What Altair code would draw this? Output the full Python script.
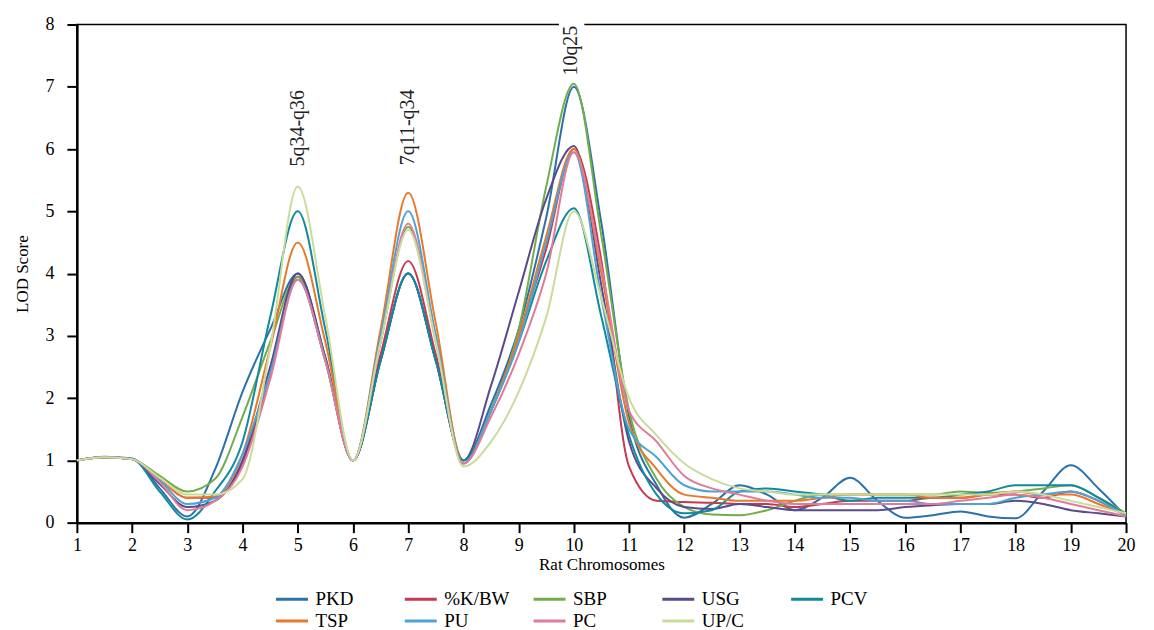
import altair as alt
import pandas as pd

# x positions (rat chromosomes)
chrom = [1, 1.5, 2, 2.5, 3, 3.5, 4, 4.5, 5, 5.5, 6, 6.5, 7, 7.5, 8, 8.5, 9, 9.5, 10,
         10.5, 11, 11.5, 12, 12.5, 13, 13.5, 14, 14.5, 15, 15.5, 16, 16.5, 17, 17.5,
         18, 18.5, 19, 19.5, 20]

series_names = ["PKD", "%K/BW", "SBP", "USG", "PCV", "TSP", "PU", "PC", "UP/C"]
series_colors = ["#2b72a8", "#c8384e", "#72ad4c", "#5b4a8c", "#108a9c",
                 "#e8792b", "#4ea3d4", "#e07b9a", "#c9dc9c"]

pkd = [1.0, 1.06, 1.03, 0.55, 0.1, 0.85, 2.1, 3.1, 4.0, 2.65, 1.0, 2.6, 4.0, 2.6, 1.0, 1.9, 3.1, 4.9, 7.0,
       4.8, 1.7, 0.6, 0.08, 0.3, 0.6, 0.45, 0.2, 0.4, 0.72, 0.35, 0.08, 0.12, 0.18, 0.1,
       0.07, 0.5, 0.92, 0.55, 0.1]
kbw = [1.0, 1.05, 1.02, 0.7, 0.4, 0.4, 0.95, 2.4, 3.95, 2.6, 1.0, 2.7, 4.2, 2.7, 1.0, 1.8, 3.0, 4.4, 6.0,
       4.2, 0.9, 0.35, 0.33, 0.32, 0.3, 0.3, 0.25, 0.3, 0.35, 0.35, 0.35, 0.4, 0.4, 0.45,
       0.45, 0.4, 0.5, 0.35, 0.12]
sbp = [1.0, 1.05, 1.02, 0.75, 0.5, 0.7, 1.7, 2.9, 3.95, 2.65, 1.0, 2.9, 4.75, 3.0, 1.0, 1.8, 3.1, 5.4, 7.05,
       4.6, 1.8, 0.7, 0.25, 0.13, 0.12, 0.2, 0.35, 0.45, 0.45, 0.45, 0.45, 0.45, 0.5, 0.48,
       0.5, 0.55, 0.6, 0.4, 0.15]
usg = [1.0, 1.05, 1.02, 0.62, 0.25, 0.35, 1.0, 2.5, 4.0, 2.65, 1.0, 2.6, 4.0, 2.6, 1.0, 2.2, 3.7, 5.2, 6.05,
       3.8, 1.3, 0.55, 0.25, 0.22, 0.3, 0.25, 0.2, 0.2, 0.2, 0.2, 0.25, 0.28, 0.3, 0.3,
       0.35, 0.3, 0.2, 0.15, 0.1]
pcv = [1.0, 1.05, 1.02, 0.5, 0.05, 0.5, 1.3, 3.3, 5.0, 3.1, 1.0, 2.6, 4.0, 2.6, 1.0, 1.8, 2.9, 4.2, 5.05,
       3.3, 1.4, 0.45, 0.15, 0.2, 0.5, 0.55, 0.5, 0.45, 0.35, 0.4, 0.4, 0.4, 0.45, 0.5,
       0.6, 0.6, 0.6, 0.4, 0.12]
tsp = [1.0, 1.05, 1.02, 0.7, 0.4, 0.42, 1.1, 2.8, 4.5, 2.9, 1.0, 3.1, 5.3, 3.2, 0.95, 1.8, 3.0, 4.6, 6.0,
       4.0, 1.6, 0.86, 0.45, 0.4, 0.35, 0.35, 0.35, 0.4, 0.45, 0.45, 0.45, 0.4, 0.4, 0.45,
       0.5, 0.45, 0.45, 0.3, 0.12]
pu = [1.0, 1.05, 1.02, 0.68, 0.3, 0.4, 1.1, 2.4, 3.9, 2.6, 1.0, 3.0, 5.0, 3.0, 0.95, 1.8, 2.9, 4.5, 5.95,
      3.6, 1.5, 1.05, 0.6, 0.5, 0.5, 0.5, 0.45, 0.4, 0.4, 0.35, 0.35, 0.3, 0.3, 0.3,
      0.4, 0.45, 0.5, 0.35, 0.12]
pc = [1.0, 1.05, 1.02, 0.65, 0.2, 0.35, 0.9, 2.3, 3.9, 2.6, 1.0, 2.9, 4.8, 2.9, 0.95, 1.7, 2.7, 4.0, 5.95,
      4.1, 1.8, 1.3, 0.75, 0.55, 0.45, 0.35, 0.3, 0.3, 0.3, 0.3, 0.3, 0.3, 0.35, 0.4,
      0.45, 0.4, 0.3, 0.2, 0.1]
upc = [1.0, 1.05, 1.02, 0.72, 0.45, 0.45, 0.7, 2.8, 5.4, 3.3, 1.0, 2.9, 4.7, 2.9, 0.9, 1.3, 2.1, 3.3, 5.0,
       3.6, 2.0, 1.4, 0.95, 0.7, 0.55, 0.5, 0.45, 0.45, 0.45, 0.45, 0.45, 0.45, 0.45, 0.45,
       0.5, 0.45, 0.35, 0.25, 0.15]

series_values = [pkd, kbw, sbp, usg, pcv, tsp, pu, pc, upc]

# peak annotations
ann_labels = ["5q34-q36", "7q11-q34", "10q25"]
ann_x = [5.0, 7.0, 9.95]
ann_y = [5.72, 5.74, 7.18]

# white gap in the frame behind the label that crosses it
gap_x0 = [9.73]
gap_x1 = [10.19]
gap_y0 = [7.85]
gap_y1 = [8.15]

x_ticks = list(range(1, 21))
y_ticks = list(range(0, 9))

rows = []
for name, vals in zip(series_names, series_values):
    for xv, yv in zip(chrom, vals):
        rows.append({"chrom": xv, "lod": yv, "trait": name})
df = pd.DataFrame(rows)
ann_df = pd.DataFrame({"label": ann_labels, "x": ann_x, "y": ann_y})
gap_df = pd.DataFrame({"x0": gap_x0, "x1": gap_x1, "y0": gap_y0, "y1": gap_y1})

FONT = "Liberation Serif"

xscale = alt.Scale(domain=[1, 20], nice=False)
yscale = alt.Scale(domain=[0, 8], nice=False)

axis_common = dict(format="d", grid=False, tickSize=10, domainWidth=2.5,
                   tickWidth=2, domainColor="black", tickColor="black",
                   labelFlush=False, labelFontSize=18, titleFontSize=17,
                   labelFont=FONT, titleFont=FONT, titleFontWeight="normal",
                   labelColor="black", titleColor="black")

lines = alt.Chart(df).mark_line(interpolate="monotone", strokeWidth=2).encode(
    x=alt.X("chrom:Q", scale=xscale, title="Rat Chromosomes",
            axis=alt.Axis(values=x_ticks, labelPadding=4, titlePadding=2, **axis_common)),
    y=alt.Y("lod:Q", scale=yscale, title="LOD Score",
            axis=alt.Axis(values=y_ticks, labelPadding=13, titlePadding=13, **axis_common)),
    color=alt.Color("trait:N",
                    scale=alt.Scale(domain=series_names, range=series_colors),
                    sort=series_names,
                    legend=alt.Legend(title=None, orient="none", legendX=204, legendY=564,
                                      columns=5, direction="horizontal",
                                      symbolType="M-1.6,0H1.6", symbolSize=400,
                                      symbolStrokeWidth=3, labelOffset=12,
                                      gridAlign="all", columnPadding=17, rowPadding=-1,
                                      padding=0, labelFontSize=19, labelFont=FONT,
                                      labelColor="black")),
)

gap = alt.Chart(gap_df).mark_rect(color="white").encode(
    x=alt.X("x0:Q", scale=xscale), x2="x1:Q",
    y=alt.Y("y0:Q", scale=yscale), y2="y1:Q",
)

labels = alt.Chart(ann_df).mark_text(angle=270, align="left", baseline="middle",
                                     font=FONT, fontSize=20, color="#222").encode(
    x=alt.X("x:Q", scale=xscale),
    y=alt.Y("y:Q", scale=yscale),
    text="label:N",
)

chart = alt.layer(lines, gap, labels).properties(
    width=1051, height=499,
    autosize=alt.AutoSizeParams(type="none"),
    padding={"left": 69, "top": 16, "right": 20, "bottom": 107},
).configure(
    font=FONT, background="white"
).configure_view(
    stroke="black", strokeWidth=1.5
)

chart.save("out.html", embed_options={"renderer": "svg", "actions": False})
